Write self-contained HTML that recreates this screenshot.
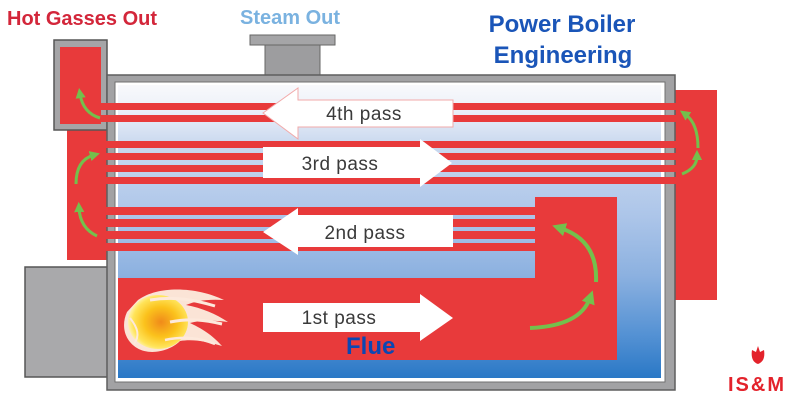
<!DOCTYPE html>
<html><head><meta charset="utf-8"><style>
html,body{margin:0;padding:0;background:#fff;}
svg{display:block;}
text{font-family:"Liberation Sans",sans-serif;}
</style></head><body>
<svg width="800" height="400" viewBox="0 0 800 400" xmlns="http://www.w3.org/2000/svg">
<defs>
<linearGradient id="inner" x1="0" y1="85" x2="0" y2="378" gradientUnits="userSpaceOnUse">
<stop offset="0" stop-color="#f8f9fc"/>
<stop offset="0.08" stop-color="#edf1f9"/>
<stop offset="0.2" stop-color="#cad9ef"/>
<stop offset="0.45" stop-color="#acc5e9"/>
<stop offset="0.65" stop-color="#8cb1e0"/>
<stop offset="0.85" stop-color="#5592d4"/>
<stop offset="1" stop-color="#2a78c6"/>
</linearGradient>
<radialGradient id="fl" cx="0.55" cy="0.5" r="0.55">
<stop offset="0" stop-color="#f08a1a"/>
<stop offset="0.5" stop-color="#fbc21c"/>
<stop offset="0.85" stop-color="#ffe45a"/>
<stop offset="1" stop-color="#fff2b0"/>
</radialGradient>
<marker id="ah" viewBox="0 0 10 10" refX="4" refY="5" markerWidth="3.4" markerHeight="3.4" orient="auto" markerUnits="strokeWidth">
<path d="M0,0 L10,5 L0,10 z" fill="#74c04c"/>
</marker>
</defs>

<!-- right red chamber -->
<rect x="675" y="90" width="42" height="210" fill="#e83a3b"/>
<!-- left red chamber -->
<rect x="67" y="128" width="42" height="132" fill="#e83a3b"/>
<!-- chimney -->
<rect x="54" y="40" width="53" height="90" fill="#a5a5a7" stroke="#565656" stroke-width="1.5"/>
<rect x="60" y="47" width="41" height="77" fill="#e83a3b"/>
<!-- burner box -->
<rect x="25" y="267" width="84" height="110" fill="#a9a9ab" stroke="#565656" stroke-width="1.5"/>
<!-- steam outlet -->
<rect x="265" y="44" width="55" height="33" fill="#9d9d9f" stroke="#666" stroke-width="1"/>
<rect x="250" y="35" width="85" height="10" fill="#a5a5a7" stroke="#666" stroke-width="1"/>

<!-- shell -->
<rect x="107" y="75" width="568" height="315" fill="#a2a2a4" stroke="#5e5e5e" stroke-width="1.5"/>
<rect x="115" y="82" width="550" height="300" fill="#ffffff" stroke="#707070" stroke-width="1"/>
<rect x="118" y="85" width="543" height="293" fill="url(#inner)"/>

<!-- tubes 4th -->
<rect x="98" y="103" width="614" height="7" fill="#e83a3b"/>
<rect x="98" y="115" width="614" height="7" fill="#e83a3b"/>
<!-- tubes 3rd -->
<rect x="67" y="141" width="645" height="7" fill="#e83a3b"/>
<rect x="67" y="153" width="645" height="7" fill="#e83a3b"/>
<rect x="67" y="165" width="645" height="7" fill="#e83a3b"/>
<rect x="67" y="177" width="645" height="7" fill="#e83a3b"/>
<!-- tubes 2nd -->
<rect x="67" y="207" width="473" height="8" fill="#e83a3b"/>
<rect x="67" y="219" width="473" height="8" fill="#e83a3b"/>
<rect x="67" y="231" width="473" height="8" fill="#e83a3b"/>
<rect x="67" y="243" width="473" height="8" fill="#e83a3b"/>

<!-- front chamber + flue -->
<rect x="535" y="197" width="82" height="163" fill="#e83a3b"/>
<rect x="118" y="278" width="499" height="82" fill="#e83a3b"/>

<!-- white arrows -->
<polygon points="263,113 298,88 298,100 453,100 453,127 298,127 298,139" fill="#fff" stroke="#f2aaaa" stroke-width="1"/>
<polygon points="263,147 420,147 420,139 452,163 420,187 420,178 263,178" fill="#fff"/>
<polygon points="263,232 298,208 298,215 453,215 453,247 298,247 298,255" fill="#fff"/>
<polygon points="263,303 420,303 420,294 453,318 420,341 420,332 263,332" fill="#fff"/>

<g font-size="19" fill="#3a3a3a" text-anchor="middle" letter-spacing="0.5">
<text x="364" y="120">4th pass</text>
<text x="340" y="170">3rd pass</text>
<text x="365" y="239">2nd pass</text>
<text x="339" y="324">1st pass</text>
</g>

<!-- flame -->
<g>
<path d="M138,300 C160,284 200,288 224,300 C206,299 196,301 186,305 C202,308 216,314 228,322 C212,320 200,320 190,323 C205,330 214,337 222,346 C206,341 192,339 180,341 C170,351 150,356 137,348 C124,340 121,325 127,312 Z" fill="#fbe4d6"/>
<ellipse cx="158" cy="322" rx="30" ry="27" fill="url(#fl)"/>
<path d="M150,300 C175,296 195,300 215,306" stroke="#fde9dc" stroke-width="3" fill="none"/>
<path d="M170,322 C190,318 205,320 222,324" stroke="#fde9dc" stroke-width="3" fill="none"/>
<path d="M165,340 C185,336 200,338 215,344" stroke="#fde9dc" stroke-width="2.5" fill="none"/>
<path d="M130,318 C138,328 140,336 134,344" stroke="#fde9dc" stroke-width="2" fill="none"/>
</g>

<!-- green arrows -->
<g stroke="#74c04c" fill="none" stroke-width="3" marker-end="url(#ah)">
<path d="M100,118 Q83,113 80,94"/>
<path d="M76,184 Q76,160 94,155"/>
<path d="M97,236 Q80,228 79,208"/>
<path d="M698,148 Q698,123 685,114"/>
<path d="M682,174 Q697,168 697,156"/>
</g>
<g stroke="#74c04c" fill="none" stroke-width="4" marker-end="url(#ah)">
<path d="M596,282 Q598,240 560,228"/>
<path d="M530,328 Q580,326 590,298"/>
</g>

<!-- labels -->
<text x="7" y="25" font-size="20" font-weight="bold" fill="#d3263a">Hot Gasses Out</text>
<text x="240" y="24" font-size="20" font-weight="bold" fill="#7ab2e0">Steam Out</text>
<text x="562" y="32" font-size="24" font-weight="bold" fill="#1a55b8" text-anchor="middle">Power Boiler</text>
<text x="563" y="63" font-size="24" font-weight="bold" fill="#1a55b8" text-anchor="middle">Engineering</text>
<text x="346" y="354" font-size="24" font-weight="bold" fill="#0b47b3">Flue</text>

<!-- logo -->
<path d="M758,346 L760,352 L764,350 C765,356 764,362 758,364 C752,362 751,356 752,350 L756,352 Z" fill="#e3222b"/>
<text x="728" y="391" font-size="20" font-weight="bold" fill="#e3222b" letter-spacing="2">IS&amp;M</text>
</svg>
</body></html>
